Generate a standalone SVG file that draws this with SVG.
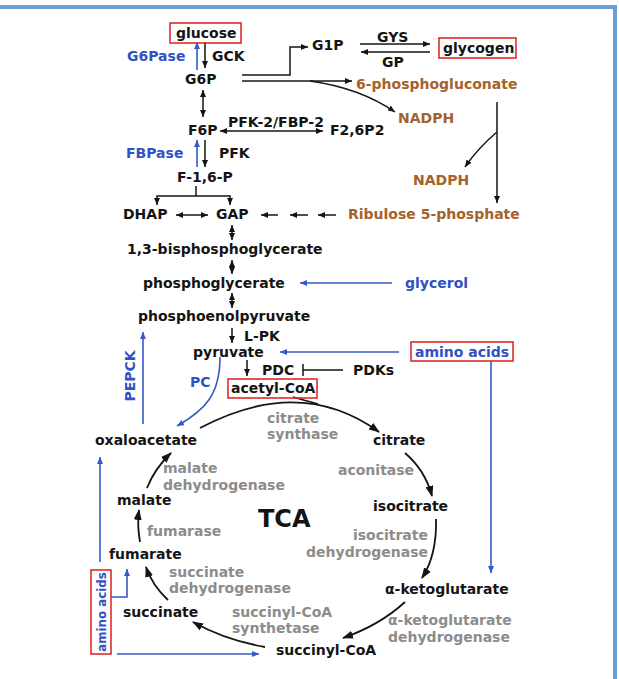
<svg xmlns="http://www.w3.org/2000/svg" width="619" height="679" viewBox="0 0 619 679">
<style>
text{font-family:"DejaVu Sans","Liberation Sans",sans-serif;font-weight:bold;font-size:14px;fill:#141414}
.b{fill:#2f52c4}
.o{fill:#a4622c}
.g{fill:#8c8c8c}
.box{fill:none;stroke:#e02a2a;stroke-width:1.6}
.k{fill:none;stroke:#141414;stroke-width:1.5}
.kt{fill:none;stroke:#141414;stroke-width:1.8}
.bl{fill:none;stroke:#3459c8;stroke-width:1.6}
</style>
<defs>
<marker id="ak" viewBox="0 0 7 6" refX="7" refY="3" markerWidth="7" markerHeight="6" orient="auto-start-reverse" markerUnits="userSpaceOnUse"><path d="M0,0L7,3L0,6z" fill="#141414"/></marker>
<marker id="at" viewBox="0 0 11 8" refX="10" refY="4" markerWidth="11" markerHeight="8" orient="auto" markerUnits="userSpaceOnUse"><path d="M0,0L11,4L0,8z" fill="#141414"/></marker>
<marker id="ab" viewBox="0 0 7 6" refX="7" refY="3" markerWidth="7" markerHeight="6" orient="auto" markerUnits="userSpaceOnUse"><path d="M0,0L7,3L0,6z" fill="#3459c8"/></marker>
</defs>
<rect x="0" y="5" width="617" height="4" fill="#6a9fd6"/>
<rect x="613" y="5" width="4" height="674" fill="#6a9fd6"/>

<g id="connectors">
<path class="k" d="M205,42V68" marker-end="url(#ak)"/>
<path class="k" d="M203,90V117" marker-start="url(#ak)" marker-end="url(#ak)"/>
<path class="k" d="M205,140V167" marker-end="url(#ak)"/>
<path class="k" d="M220,131H323" marker-start="url(#ak)" marker-end="url(#ak)"/>
<path class="k" d="M196,186V196"/>
<path class="k" d="M157,205V196H230V205" marker-start="url(#ak)" marker-end="url(#ak)"/>
<path class="k" d="M176,215H208" marker-start="url(#ak)" marker-end="url(#ak)"/>
<path class="k" d="M278,215H261" marker-end="url(#ak)"/>
<path class="k" d="M308,215H290" marker-end="url(#ak)"/>
<path class="k" d="M336,215H318" marker-end="url(#ak)"/>
<path class="k" d="M232,225V240" marker-start="url(#ak)" marker-end="url(#ak)"/>
<path class="k" d="M232,260V274" marker-start="url(#ak)" marker-end="url(#ak)"/>
<path class="k" d="M232,293V308" marker-start="url(#ak)" marker-end="url(#ak)"/>
<path class="k" d="M232,328V343" marker-end="url(#ak)"/>
<path class="k" d="M247,360V376" marker-end="url(#ak)"/>
<path class="k" d="M303,370H343M303,364V376"/>
<path class="k" d="M242,75H290V47H308" marker-end="url(#ak)"/>
<path class="k" d="M242,81H352" marker-end="url(#ak)"/>
<path class="k" d="M310,81Q360,88 395,112" marker-end="url(#ak)"/>
<path class="k" d="M360,44H430" marker-end="url(#ak)"/>
<path class="k" d="M430,52H361" marker-end="url(#ak)"/>
<path class="k" d="M497,102V203" marker-end="url(#ak)"/>
<path class="k" d="M497,132Q478,148 465,167" marker-end="url(#ak)"/>

<path class="kt" d="M200,428Q300,375 379,432" marker-end="url(#at)"/>
<path class="kt" d="M293,397Q303,400 318,404"/>
<path class="kt" d="M405,453Q425,470 432,496" marker-end="url(#at)"/>
<path class="kt" d="M436,519Q437,555 422,578" marker-end="url(#at)"/>
<path class="kt" d="M405,602Q380,625 343,638" marker-end="url(#at)"/>
<path class="kt" d="M265,647Q225,640 193,622" marker-end="url(#at)"/>
<path class="kt" d="M168,600Q152,585 146,567" marker-end="url(#at)"/>
<path class="kt" d="M140,542Q137,525 139,510" marker-end="url(#at)"/>
<path class="kt" d="M147,488Q155,468 171,453" marker-end="url(#at)"/>

<path class="bl" d="M197,70V42" marker-end="url(#ab)"/>
<path class="bl" d="M197,167V140" marker-end="url(#ab)"/>
<path class="bl" d="M392,283H300" marker-end="url(#ab)"/>
<path class="bl" d="M399,352H280" marker-end="url(#ab)"/>
<path class="bl" d="M491,361V573" marker-end="url(#ab)"/>
<path class="bl" d="M143,424V332" marker-end="url(#ab)"/>
<path class="bl" d="M220,357C220,395 205,410 177,426" marker-end="url(#ab)"/>
<path class="bl" d="M100,562V457" marker-end="url(#ab)"/>
<path class="bl" d="M111,597H127V569" marker-end="url(#ab)"/>
<path class="bl" d="M117,654H259" marker-end="url(#ab)"/>
</g>

<g id="glucose"><rect class="box" x="170" y="23" width="71" height="20"/><text x="176" y="38">glucose</text></g>
<g id="G6Pase"><text class="b" x="127" y="61">G6Pase</text></g>
<g id="GCK"><text x="212" y="61">GCK</text></g>
<g id="G6P"><text x="185" y="84">G6P</text></g>
<g id="G1P"><text x="312" y="50">G1P</text></g>
<g id="GYS"><text x="377" y="42">GYS</text></g>
<g id="GP"><text x="382" y="67">GP</text></g>
<g id="glycogen"><rect class="box" x="439" y="38" width="77" height="20"/><text x="443" y="53">glycogen</text></g>
<g id="phosphogluconate"><text class="o" x="356" y="89">6-phosphogluconate</text></g>
<g id="NADPH1"><text class="o" x="398" y="123">NADPH</text></g>
<g id="PFK2"><text x="228" y="127">PFK-2/FBP-2</text></g>
<g id="F6P"><text x="188" y="135">F6P</text></g>
<g id="F26P2"><text x="330" y="135">F2,6P2</text></g>
<g id="FBPase"><text class="b" x="126" y="158">FBPase</text></g>
<g id="PFK"><text x="219" y="158">PFK</text></g>
<g id="F16P"><text x="177" y="182">F-1,6-P</text></g>
<g id="NADPH2"><text class="o" x="413" y="185">NADPH</text></g>
<g id="DHAP"><text x="123" y="219">DHAP</text></g>
<g id="GAP"><text x="216" y="219">GAP</text></g>
<g id="ribulose"><text class="o" x="348" y="219">Ribulose 5-phosphate</text></g>
<g id="bpg"><text x="127" y="254">1,3-bisphosphoglycerate</text></g>
<g id="pg"><text x="143" y="288">phosphoglycerate</text></g>
<g id="glycerol"><text class="b" x="405" y="288">glycerol</text></g>
<g id="pep"><text x="138" y="321">phosphoenolpyruvate</text></g>
<g id="LPK"><text x="244" y="341">L-PK</text></g>
<g id="pyruvate"><text x="193" y="357">pyruvate</text></g>
<g id="aminoacids1"><rect class="box" x="411" y="342" width="102" height="19"/><text class="b" x="415" y="357">amino acids</text></g>
<g id="PDC"><text x="262" y="375">PDC</text></g>
<g id="PDKs"><text x="353" y="375">PDKs</text></g>
<g id="PC"><text class="b" x="190" y="387">PC</text></g>
<g id="PEPCK"><text class="b" transform="translate(135,376) rotate(-90)" text-anchor="middle">PEPCK</text></g>
<g id="acetylcoa"><rect class="box" x="228" y="379" width="89" height="19"/><text x="231" y="393">acetyl-CoA</text></g>
<g id="citratesynthase"><text class="g" x="267" y="423">citrate</text><text class="g" x="267" y="439">synthase</text></g>
<g id="oxaloacetate"><text x="95" y="445">oxaloacetate</text></g>
<g id="citrate"><text x="373" y="445">citrate</text></g>
<g id="mdh"><text class="g" x="163" y="473">malate</text><text class="g" x="163" y="490">dehydrogenase</text></g>
<g id="aconitase"><text class="g" x="338" y="475">aconitase</text></g>
<g id="malate"><text x="117" y="505">malate</text></g>
<g id="isocitrate"><text x="373" y="511">isocitrate</text></g>
<g id="TCA"><text x="258" y="527" style="font-size:24px">TCA</text></g>
<g id="fumarase"><text class="g" x="147" y="536">fumarase</text></g>
<g id="idh"><text class="g" x="428" y="540" text-anchor="end">isocitrate</text><text class="g" x="428" y="557" text-anchor="end">dehydrogenase</text></g>
<g id="fumarate"><text x="109" y="559">fumarate</text></g>
<g id="sdh"><text class="g" x="169" y="577">succinate</text><text class="g" x="169" y="593">dehydrogenase</text></g>
<g id="akg"><text x="385" y="594">α-ketoglutarate</text></g>
<g id="succinate"><text x="123" y="617">succinate</text></g>
<g id="scs"><text class="g" x="232" y="617">succinyl-CoA</text><text class="g" x="232" y="633">synthetase</text></g>
<g id="akgdh"><text class="g" x="388" y="625">α-ketoglutarate</text><text class="g" x="388" y="642">dehydrogenase</text></g>
<g id="succinylcoa"><text x="276" y="655">succinyl-CoA</text></g>
<g id="aminoacids2"><rect class="box" x="91" y="570" width="20" height="84"/><text class="b" transform="translate(105.5,612) rotate(-90)" text-anchor="middle" style="font-size:11.8px">amino acids</text></g>
</svg>
